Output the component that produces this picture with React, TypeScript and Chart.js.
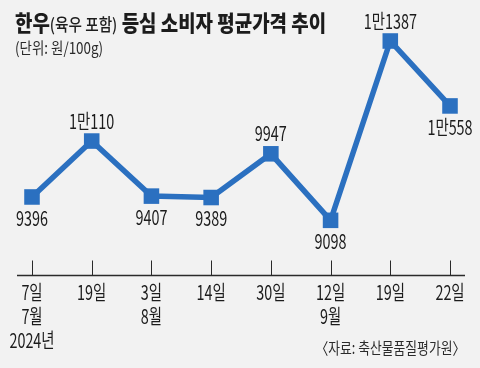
import React, { useEffect, useRef } from "react";
import { Chart, registerables } from "chart.js";

Chart.register(...registerables);

// ---- data ----
const dayLabels: string[][] = [
  ["7일", "7월", "2024년"],
  ["19일"],
  ["3일", "8월"],
  ["14일"],
  ["30일"],
  ["12일", "9월"],
  ["19일"],
  ["22일"],
];
const prices: number[] = [9396, 10110, 9407, 9389, 9947, 9098, 11387, 10558];
const labelSides: string[] = ["below", "above", "below", "below", "above", "below", "above", "below"];
const yMin = 8400;
const yMax = 11770;

const titleMain1 = "한우";
const titleParen = "(육우 포함)";
const titleMain2 = " 등심 소비자 평균가격 추이";
const unitText = "(단위: 원/100g)";
const sourceText = "〈자료: 축산물품질평가원〉";

const LINE_COLOR = "#2b70c0";
const TEXT_COLOR = "#1c1c1c";
const BG = "#f2f2f2";
const KFONT = '"Noto Sans CJK KR", "Noto Sans", sans-serif';

const fmt = (v: number) => (v >= 10000 ? `${Math.floor(v / 10000)}만${v % 10000}` : `${v}`);

function drawNarrow(ctx: CanvasRenderingContext2D, text: string, x: number, y: number) {
  ctx.save();
  ctx.translate(x, y);
  ctx.scale(0.72, 1);
  ctx.fillText(text, 0, 0);
  ctx.restore();
}

const decorPlugin = {
  id: "decor",
  beforeDatasetsDraw(chart: any) {
    const { ctx, chartArea, scales } = chart;
    const x = scales.x;
    ctx.save();
    ctx.strokeStyle = "#2a2a2a";
    ctx.lineWidth = 1.3;
    ctx.beginPath();
    const yb = Math.round(chartArea.bottom) + 0.5;
    ctx.moveTo(chartArea.left - 15, yb);
    ctx.lineTo(chartArea.right + 15, yb);
    ctx.stroke();
    ctx.lineWidth = 1;
    ctx.beginPath();
    x.ticks.forEach((_: any, i: number) => {
      const px = Math.round(x.getPixelForTick(i)) + 0.5;
      ctx.moveTo(px, yb - 15);
      ctx.lineTo(px, yb);
    });
    ctx.stroke();
    // category labels under the axis
    ctx.fillStyle = TEXT_COLOR;
    ctx.font = `400 20px ${KFONT}`;
    ctx.textAlign = "center";
    ctx.textBaseline = "middle";
    x.ticks.forEach((_: any, i: number) => {
      const px = x.getPixelForTick(i);
      const lines = dayLabels[i];
      lines.forEach((t, j) => drawNarrow(ctx, t, px, chartArea.bottom + 17 + j * 24));
    });
    ctx.restore();
  },
  afterDatasetsDraw(chart: any) {
    const { ctx } = chart;
    const meta = chart.getDatasetMeta(0);
    ctx.save();
    ctx.fillStyle = TEXT_COLOR;
    ctx.font = `400 20px ${KFONT}`;
    ctx.textAlign = "center";
    ctx.textBaseline = "middle";
    meta.data.forEach((el: any, i: number) => {
      const off = labelSides[i] === "above" ? -20 : 21;
      drawNarrow(ctx, fmt(prices[i]), el.x, el.y + off);
    });
    ctx.restore();
  },
};

function LineChart() {
  const ref = useRef<HTMLCanvasElement | null>(null);
  useEffect(() => {
    if (!ref.current) return;
    const chart = new Chart(ref.current, {
      type: "line",
      data: {
        labels: dayLabels,
        datasets: [
          {
            data: prices,
            borderColor: LINE_COLOR,
            backgroundColor: LINE_COLOR,
            borderWidth: 5.5,
            pointStyle: "rect",
            pointRadius: 11,
            pointBorderWidth: 0,
            pointBackgroundColor: LINE_COLOR,
            tension: 0,
          },
        ],
      },
      options: {
        animation: false,
        responsive: false,
        maintainAspectRatio: false,
        events: [],
        layout: { padding: { left: 32, right: 30, top: 10, bottom: 93 } },
        plugins: { legend: { display: false }, tooltip: { enabled: false }, title: { display: false } },
        scales: {
          x: {
            offset: false,
            grid: { display: false, drawTicks: false },
            border: { display: false },
            ticks: { display: false, autoSkip: false },
          },
          y: { display: false, min: yMin, max: yMax },
        },
      },
      plugins: [decorPlugin],
    });
    return () => chart.destroy();
  }, []);
  return <canvas ref={ref} width={480} height={368} style={{ position: "absolute", left: 0, top: 0, width: 480, height: 368 }} />;
}

export default function App() {
  return (
    <div style={{ position: "fixed", left: 0, top: 0, width: 480, height: 368, background: BG, overflow: "hidden", fontFamily: KFONT, color: TEXT_COLOR }}>
      <LineChart />
      <div style={{ position: "absolute", left: 15, top: 7, lineHeight: "28px", whiteSpace: "nowrap", transform: "scaleX(0.86)", transformOrigin: "left center" }}>
        <span style={{ fontSize: 22, fontWeight: 900 }}>{titleMain1}</span>
        <span style={{ fontSize: 17, fontWeight: 500 }}>{titleParen}</span>
        <span style={{ fontSize: 22, fontWeight: 900 }}>{titleMain2}</span>
      </div>
      <div style={{ position: "absolute", left: 15, top: 37, lineHeight: "20px", fontSize: 16, whiteSpace: "nowrap", color: "#2a2a2a", transform: "scaleX(0.84)", transformOrigin: "left center" }}>
        {unitText}
      </div>
      <div style={{ position: "absolute", right: 15, top: 337, lineHeight: "20px", fontSize: 16, whiteSpace: "nowrap", color: "#2a2a2a", transform: "scaleX(0.8)", transformOrigin: "right center" }}>
        {sourceText}
      </div>
    </div>
  );
}
